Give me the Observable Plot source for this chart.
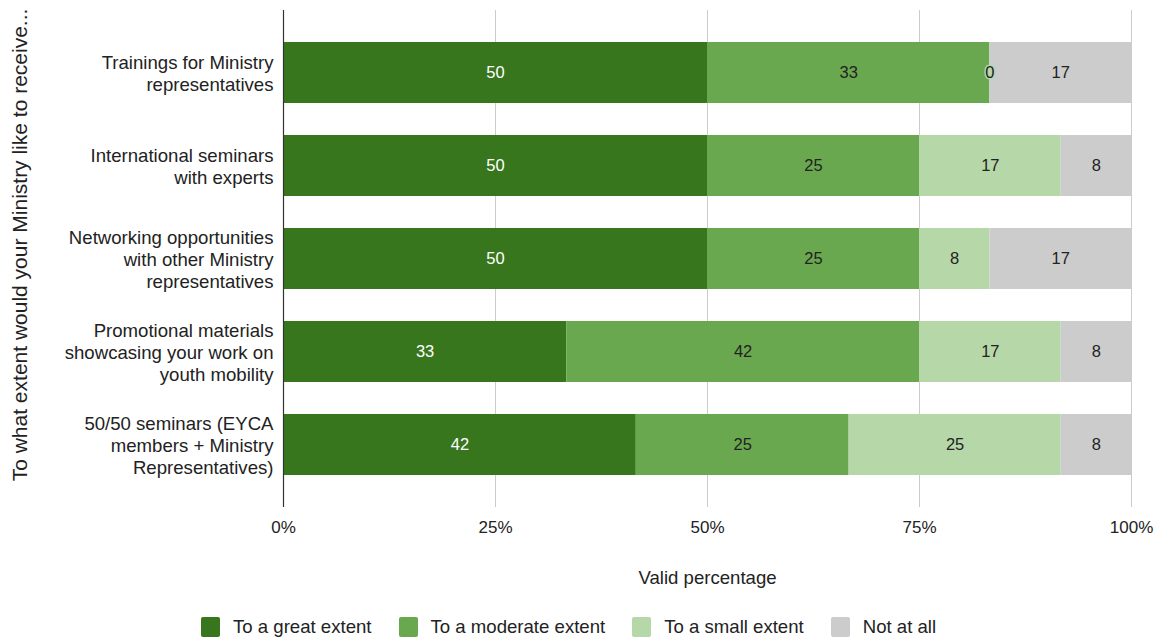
<!DOCTYPE html>
<html>
<head>
<meta charset="utf-8">
<script src="https://cdn.jsdelivr.net/npm/d3@7"></script>
<script src="https://cdn.jsdelivr.net/npm/@observablehq/plot@0.6"></script>
<style>
  body { margin: 0; background: #fff; font-family: "Liberation Sans", Arial, sans-serif; }
  #wrap { position: relative; width: 1166px; height: 642px; }
  #legend { position: absolute; left: 201px; top: 617px; height: 20px; display: flex; align-items: center; font-size: 18.6px; color: #222; }
  .item { display: flex; align-items: center; margin-right: 27px; }
  .sw { width: 19px; height: 20px; border-radius: 2px; margin-right: 13px; }
</style>
</head>
<body>
<div id="wrap"><div id="chart"></div><div id="legend"></div></div>
<script>
const categories = [
  "Trainings for Ministry representatives",
  "International seminars with experts",
  "Networking opportunities with other Ministry representatives",
  "Promotional materials showcasing your work on youth mobility",
  "50/50 seminars (EYCA members + Ministry Representatives)"
];
const categoryLabels = [
  "Trainings for Ministry\nrepresentatives",
  "International seminars\nwith experts",
  "Networking opportunities\nwith other Ministry\nrepresentatives",
  "Promotional materials\nshowcasing your work on\nyouth mobility",
  "50/50 seminars (EYCA\nmembers + Ministry\nRepresentatives)"
];
const series = ["To a great extent", "To a moderate extent", "To a small extent", "Not at all"];
const greatExtent    = [50, 50, 50, 33.4, 41.6];
const moderateExtent = [33.3, 25, 25, 41.6, 25.1];
const smallExtent    = [0, 16.7, 8.3, 16.7, 25];
const notAtAll       = [16.7, 8.3, 16.7, 8.3, 8.3];
const seriesColors = ["#38761d", "#6aa84f", "#b6d7a8", "#cccccc"];
const xTicks = [0, 25, 50, 75, 100];
const xTitle = "Valid percentage";
const yTitle = "To what extent would your Ministry like to receive...";

const seriesValues = [greatExtent, moderateExtent, smallExtent, notAtAll];
const data = [];
categories.forEach((c, i) => {
  series.forEach((s, j) => data.push({category: c, series: s, value: seriesValues[j][i]}));
});

const chart = Plot.plot({
  width: 1166,
  height: 600,
  marginLeft: 283,
  marginRight: 35,
  marginTop: 10,
  marginBottom: 93,
  style: {fontFamily: "'Liberation Sans', Arial, sans-serif", fontSize: "17px", color: "#222", background: "white"},
  x: {domain: [0, 100]},
  y: {domain: categories, padding: 0.34},
  color: {domain: series, range: seriesColors},
  marks: [
    Plot.gridX(xTicks.slice(1), {stroke: "#cccccc", strokeOpacity: 1}),
    Plot.barX(data, Plot.stackX({x: "value", y: "category", fill: "series"})),
    Plot.textX(data, Plot.stackX({
      x: "value", y: "category", z: "series",
      text: d => Math.round(d.value),
      fill: d => d.series === series[0] ? "white" : "#222",
      stroke: d => d.value === 0 ? seriesColors[2] : seriesColors[series.indexOf(d.series)],
      strokeWidth: d => d.value === 0 ? 3 : 0,
      fontSize: 16.5
    })),
    Plot.ruleX([0], {stroke: "#333", strokeWidth: 1.2}),
    Plot.axisX({ticks: xTicks, tickFormat: d => d + "%", tickSize: 0, tickPadding: 13, label: null, fontSize: 17}),
    Plot.axisY({tickSize: 0, tickPadding: 10, tickFormat: d => categoryLabels[categories.indexOf(d)], lineHeight: 1.18, label: null, fontSize: 18.6}),
    Plot.text([xTitle], {frameAnchor: "bottom", dy: 76, fontSize: 18.6, fill: "#222"}),
    Plot.text([yTitle], {frameAnchor: "left", textAnchor: "middle", rotate: -90, dx: -263, dy: -14, fontSize: 21, fill: "#222"})
  ]
});
document.getElementById("chart").appendChild(chart);

const legend = document.getElementById("legend");
series.forEach((s, i) => {
  const item = document.createElement("div");
  item.className = "item";
  const sw = document.createElement("div");
  sw.className = "sw";
  sw.style.background = seriesColors[i];
  const label = document.createElement("span");
  label.textContent = s;
  item.appendChild(sw);
  item.appendChild(label);
  legend.appendChild(item);
});
</script>
</body>
</html>
